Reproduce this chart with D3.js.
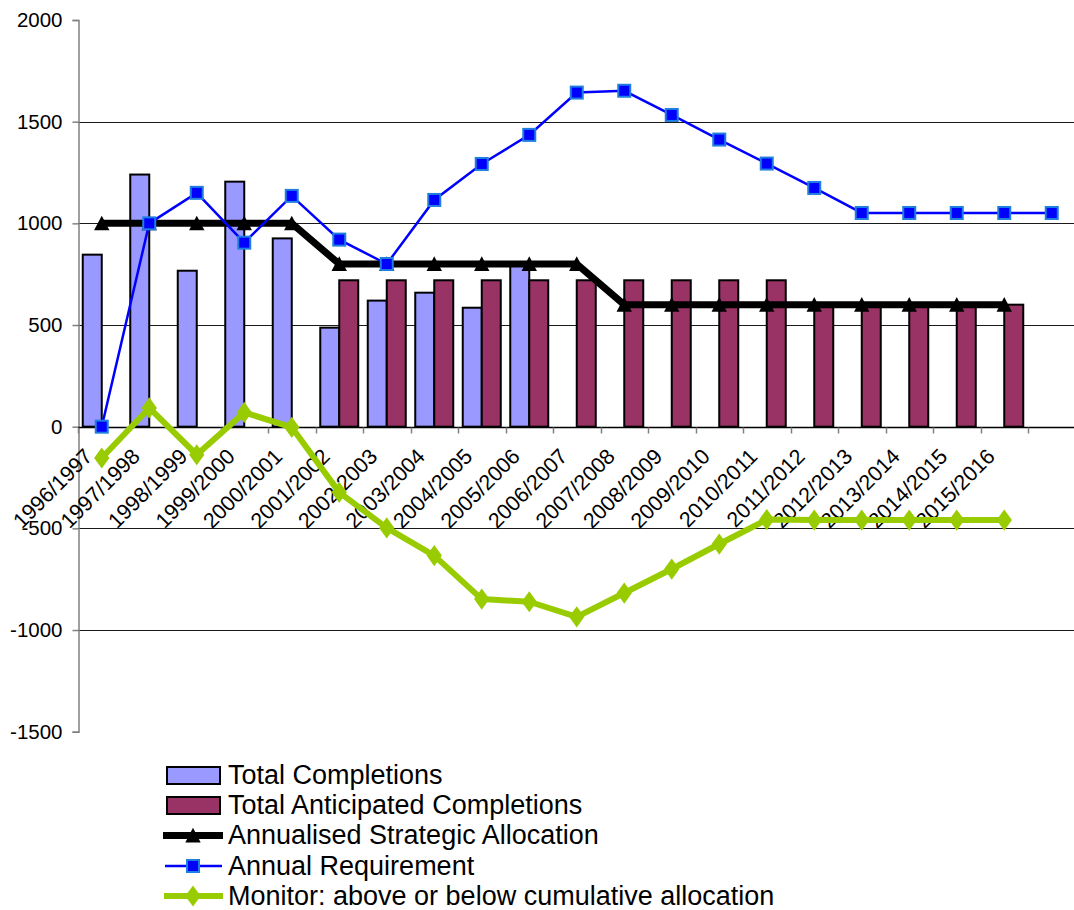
<!DOCTYPE html>
<html>
<head>
<meta charset="utf-8">
<script src="https://cdn.jsdelivr.net/npm/d3@7"></script>
<style>
  html, body { margin: 0; padding: 0; background: #fff; }
  svg { display: block; font-family: "Liberation Sans", Arial, sans-serif; }
</style>
</head>
<body>
<svg id="chart" width="1074" height="910"></svg>
<script>
const categories = ["1996/1997","1997/1998","1998/1999","1999/2000","2000/2001","2001/2002","2002/2003","2003/2004","2004/2005","2005/2006","2006/2007","2007/2008","2008/2009","2009/2010","2010/2011","2011/2012","2012/2013","2013/2014","2014/2015","2015/2016",""];
const totalCompletions = [846, 1240, 767, 1205, 926, 487, 620, 659, 585, 795, null, null, null, null, null, null, null, null, null, null, null];
const anticipatedCompletions = [null, null, null, null, null, 720, 720, 720, 720, 720, 720, 720, 720, 720, 720, 600, 600, 600, 600, 600, null];
const strategicAllocation = [1000, 1000, 1000, 1000, 1000, 800, 800, 800, 800, 800, 800, 600, 600, 600, 600, 600, 600, 600, 600, 600, null];
const annualRequirement = [0, 1000, 1150, 905, 1135, 920, 800, 1115, 1292, 1435, 1643, 1652, 1533, 1412, 1294, 1174, 1051, 1051, 1051, 1051, 1051];
const monitor = [-154, 92, -138, 70, -3, -323, -498, -634, -848, -861, -935, -818, -700, -577, -457, -459, -459, -459, -459, -459, null];
const yTicks = [2000, 1500, 1000, 500, 0, -500, -1000, -1500];
const legendLabels = ["Total Completions", "Total Anticipated Completions", "Annualised Strategic Allocation", "Annual Requirement", "Monitor: above or below cumulative allocation"];

const svg = d3.select("#chart");
const x = d3.scaleBand().domain(categories.map((c, i) => i)).range([78, 1075.5]).padding(0);
const xs = d3.scaleBand().domain(["done", "ant"]).range([0, x.bandwidth()]).paddingInner(0).paddingOuter(0.25);
const y = d3.scaleLinear().domain([-1500, 2000]).range([731.7, 20]);
const cx = i => x(i) + x.bandwidth() / 2;

// custom triangle marker (bounding-box centred)
const tri = {
  draw(ctx, size) {
    const w = Math.sqrt(size);
    ctx.moveTo(0, -w * 0.55);
    ctx.lineTo(w * 0.55, w * 0.5);
    ctx.lineTo(-w * 0.55, w * 0.5);
    ctx.closePath();
  }
};

// gridlines
svg.append("g").selectAll("line")
  .data(yTicks.filter(v => v !== 2000 && v !== -1500 && v !== 0))
  .join("line")
  .attr("x1", 78).attr("x2", 1075.5)
  .attr("y1", d => Math.round(y(d)) + 0.5).attr("y2", d => Math.round(y(d)) + 0.5)
  .attr("stroke", "#1a1a1a").attr("stroke-width", 1);

// y axis
const yAxis = svg.append("g").attr("transform", "translate(78.5,0)")
  .call(d3.axisLeft(y).tickValues(yTicks).tickSize(6).tickPadding(10).tickFormat(d => String(d)));
yAxis.select(".domain").attr("stroke", "#808080").attr("stroke-width", 1.5);
yAxis.selectAll(".tick line").attr("stroke", "#808080").attr("stroke-width", 1.5);
yAxis.selectAll(".tick text").attr("font-size", 20.5).attr("fill", "#000")
  .attr("font-family", "Liberation Sans, Arial, sans-serif");

// bars
const bars = svg.append("g");
bars.selectAll("rect.done")
  .data(totalCompletions.map((v, i) => ({ v, i })).filter(d => d.v != null))
  .join("rect").attr("class", "done")
  .attr("x", d => x(d.i) + xs("done")).attr("width", xs.bandwidth())
  .attr("y", d => y(d.v)).attr("height", d => y(0) - y(d.v))
  .attr("fill", "#9999FF").attr("stroke", "#000").attr("stroke-width", 2);
bars.selectAll("rect.ant")
  .data(anticipatedCompletions.map((v, i) => ({ v, i })).filter(d => d.v != null))
  .join("rect").attr("class", "ant")
  .attr("x", d => x(d.i) + xs("ant")).attr("width", xs.bandwidth())
  .attr("y", d => y(d.v)).attr("height", d => y(0) - y(d.v))
  .attr("fill", "#993366").attr("stroke", "#000").attr("stroke-width", 2);

// x axis at zero
const xAxisG = svg.append("g").attr("transform", `translate(0,${Math.round(y(0)) + 0.5})`);
xAxisG.append("line").attr("x1", 78).attr("x2", 1075.5).attr("stroke", "#000").attr("stroke-width", 1.5);
xAxisG.selectAll("line.tick")
  .data(d3.range(categories.length + 1))
  .join("line").attr("class", "tick")
  .attr("x1", i => Math.round(78 + i * x.step()) + 0.5)
  .attr("x2", i => Math.round(78 + i * x.step()) + 0.5)
  .attr("y1", 0).attr("y2", 6)
  .attr("stroke", "#808080").attr("stroke-width", 1.5);

// category labels
svg.append("g").selectAll("text")
  .data(categories.map((c, i) => ({ c, i })).filter(d => d.c))
  .join("text")
  .attr("transform", d => `translate(${cx(d.i) - 8},${y(0) + 31}) rotate(-45)`)
  .attr("text-anchor", "end")
  .attr("font-size", 21.5)
  .attr("fill", "#000")
  .text(d => d.c);

const line = d3.line().defined(d => d.v != null).x(d => cx(d.i)).y(d => y(d.v));
const toPts = arr => arr.map((v, i) => ({ v, i }));

// strategic allocation
svg.append("path").datum(toPts(strategicAllocation))
  .attr("d", line).attr("fill", "none").attr("stroke", "#000").attr("stroke-width", 7)
  .attr("stroke-linejoin", "miter");
svg.append("g").selectAll("path")
  .data(toPts(strategicAllocation).filter(d => d.v != null))
  .join("path")
  .attr("d", d3.symbol(tri, 196))
  .attr("transform", d => `translate(${cx(d.i)},${y(d.v)})`)
  .attr("fill", "#000");

// annual requirement
svg.append("path").datum(toPts(annualRequirement))
  .attr("d", line).attr("fill", "none").attr("stroke", "#0000FF").attr("stroke-width", 2.5);
svg.append("g").selectAll("rect")
  .data(toPts(annualRequirement).filter(d => d.v != null))
  .join("rect")
  .attr("x", d => cx(d.i) - 6).attr("y", d => y(d.v) - 6)
  .attr("width", 12).attr("height", 12)
  .attr("fill", "#0000FF").attr("stroke", "#1F7FE0").attr("stroke-width", 2);

// monitor
svg.append("path").datum(toPts(monitor))
  .attr("d", line).attr("fill", "none").attr("stroke", "#99CC00").attr("stroke-width", 6)
  .attr("stroke-linejoin", "round");
svg.append("g").selectAll("path")
  .data(toPts(monitor).filter(d => d.v != null))
  .join("path")
  .attr("d", d3.symbol(d3.symbolDiamond, 130))
  .attr("transform", d => `translate(${cx(d.i)},${y(d.v)}) scale(1.25,1)`)
  .attr("fill", "#99CC00");

// legend
const lg = svg.append("g");
const rowY = [775, 805, 835.5, 866, 896];
legendLabels.forEach((lab, k) => {
  const yy = rowY[k];
  if (k === 0 || k === 1) {
    lg.append("rect").attr("x", 167).attr("y", yy - 8).attr("width", 53).attr("height", 17)
      .attr("fill", k === 0 ? "#9999FF" : "#993366").attr("stroke", "#000").attr("stroke-width", 2);
  } else if (k === 2) {
    lg.append("line").attr("x1", 163).attr("x2", 223).attr("y1", yy).attr("y2", yy)
      .attr("stroke", "#000").attr("stroke-width", 7);
    lg.append("path").attr("d", d3.symbol(tri, 196))
      .attr("transform", `translate(193,${yy})`).attr("fill", "#000");
  } else if (k === 3) {
    lg.append("line").attr("x1", 165).attr("x2", 222).attr("y1", yy).attr("y2", yy)
      .attr("stroke", "#0000FF").attr("stroke-width", 2.5);
    lg.append("rect").attr("x", 187).attr("y", yy - 6).attr("width", 12).attr("height", 12)
      .attr("fill", "#0000FF").attr("stroke", "#1F7FE0").attr("stroke-width", 2);
  } else {
    lg.append("line").attr("x1", 164).attr("x2", 223).attr("y1", yy).attr("y2", yy)
      .attr("stroke", "#99CC00").attr("stroke-width", 6);
    lg.append("path").attr("d", d3.symbol(d3.symbolDiamond, 130))
      .attr("transform", `translate(193,${yy}) scale(1.25,1)`).attr("fill", "#99CC00");
  }
  lg.append("text").attr("x", 228).attr("y", yy + 8.5).attr("font-size", 27).attr("fill", "#000").text(lab);
});
</script>
</body>
</html>
